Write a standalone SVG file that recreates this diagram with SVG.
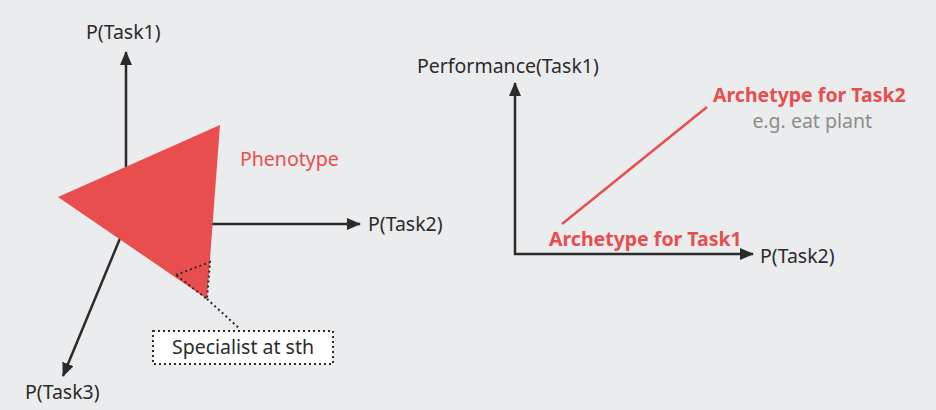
<svg xmlns="http://www.w3.org/2000/svg" width="936" height="410" viewBox="0 0 936 410">
<defs>
<marker id="arr" markerWidth="14" markerHeight="12" refX="13" refY="6" orient="auto-start-reverse" markerUnits="userSpaceOnUse">
<path d="M0,0 L14,6 L0,12 Z" fill="#2b2b2b"/>
</marker>
<style>
.t{font-family:"Noto Sans","Open Sans",sans-serif;font-size:19.5px;fill:#2b2b2b}
.ax{stroke:#2b2b2b;stroke-width:2.5;fill:none}
.red{fill:#E84E4D}
.rb{font-family:"Noto Sans","Open Sans",sans-serif;font-size:19.5px;font-weight:bold;fill:#E84E4D}
.g{font-family:"Noto Sans","Open Sans",sans-serif;font-size:19.5px;fill:#8c8c8c}
.dot{stroke:#2b2b2b;stroke-width:2;stroke-dasharray:2 3;fill:none}
</style>
</defs>
<rect width="936" height="410" fill="#EBECEE"/>
<g id="connectors">
<line class="ax" x1="126" y1="224" x2="126" y2="52" marker-end="url(#arr)"/>
<line class="ax" x1="126" y1="224" x2="360" y2="224" marker-end="url(#arr)"/>
<line class="ax" x1="126" y1="224" x2="63" y2="376" marker-end="url(#arr)"/>
<path class="ax" d="M515,83 L515,254 L753,254" marker-start="url(#arr)" marker-end="url(#arr)"/>
<line x1="562" y1="224" x2="707" y2="107" stroke="#E84E4D" stroke-width="2.5"/>
<line class="dot" x1="207" y1="299" x2="240" y2="329"/>
</g>
<g id="phenotype">
<polygon class="red" points="58,197 220,125 207,299"/>
<text x="240" y="166" style="font-family:'Noto Sans',sans-serif;font-size:19.5px;fill:#E84E4D">Phenotype</text>
</g>
<g id="specialist-region">
<polygon class="dot" points="176,275 210,262 207,299"/>
</g>
<g id="specialist">
<rect class="dot" x="153" y="331" width="180" height="33" style="fill:#ffffff"/>
<text class="t" x="243" y="354" text-anchor="middle">Specialist at sth</text>
</g>
<g id="labels-left">
<text class="t" x="86" y="39">P(Task1)</text>
<text class="t" x="368" y="231">P(Task2)</text>
<text class="t" x="25" y="399">P(Task3)</text>
</g>
<g id="labels-right">
<text class="t" x="417" y="73">Performance(Task1)</text>
<text class="t" x="760" y="263">P(Task2)</text>
</g>
<g id="archetype2">
<text class="rb" x="713" y="102">Archetype for Task2</text>
<text class="g" x="872" y="128" text-anchor="end">e.g. eat plant</text>
</g>
<g id="archetype1">
<text class="rb" x="549" y="246">Archetype for Task1</text>
</g>
</svg>
